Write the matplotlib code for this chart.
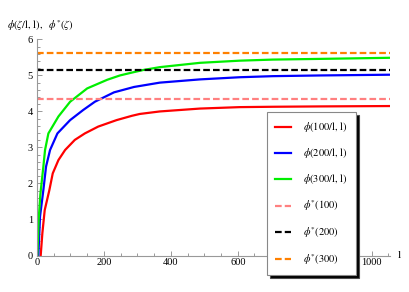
import matplotlib
matplotlib.use("Agg")
import matplotlib.pyplot as plt
from matplotlib.ticker import MultipleLocator

plt.rcParams['font.family'] = ['Liberation Serif', 'DejaVu Serif']
plt.rcParams['mathtext.fontset'] = 'stix'

# curves phi(n/l, l)
x_red = [11, 16, 23, 37, 47, 64, 84, 113, 143, 183, 238, 284, 307, 367, 487, 606, 705, 850, 1055]
y_red = [0, 0.62, 1.26, 1.82, 2.28, 2.65, 2.93, 3.21, 3.39, 3.58, 3.76, 3.88, 3.93, 4.0, 4.08, 4.12, 4.13, 4.14, 4.15]

x_blue = [4, 9, 19, 27, 39, 61, 99, 138, 173, 230, 290, 367, 487, 606, 705, 850, 1055]
y_blue = [0, 1.08, 1.82, 2.47, 2.93, 3.39, 3.76, 4.04, 4.27, 4.53, 4.68, 4.8, 4.89, 4.95, 4.98, 5.0, 5.02]

x_green = [1, 5, 10, 19, 24, 34, 64, 99, 150, 210, 248, 284, 317, 367, 487, 606, 705, 850, 1055]
y_green = [0, 1.0, 1.7, 2.47, 2.93, 3.39, 3.86, 4.27, 4.64, 4.88, 5.0, 5.08, 5.15, 5.23, 5.35, 5.41, 5.44, 5.46, 5.49]

# limits phi*(n)
phi_star = [4.34, 5.15, 5.62]
star_colors = ['#ff8080', 'black', '#ff8000']
star_labels = [r'$\phi^{*}(100)$', r'$\phi^{*}(200)$', r'$\phi^{*}(300)$']

fig = plt.figure(figsize=(4.09, 2.92), dpi=100)
ax = fig.add_axes([0.0905, 0.125, 0.8630, 0.74])

lw = 1.6
ax.plot(x_red, y_red, color='red', lw=lw, label=r'$\phi(100/\mathrm{l},\,\mathrm{l})$')
ax.plot(x_blue, y_blue, color='blue', lw=lw, label=r'$\phi(200/\mathrm{l},\,\mathrm{l})$')
ax.plot(x_green, y_green, color='#00ee00', lw=lw, label=r'$\phi(300/\mathrm{l},\,\mathrm{l})$')
for v, c, lab in zip(phi_star, star_colors, star_labels):
    ax.axhline(v, color=c, lw=lw, dashes=(3, 1.4), label=lab)

ax.set_xlim(0, 1055)
ax.set_ylim(0, 6)
for s in ['top', 'right']:
    ax.spines[s].set_visible(False)
for s in ['left', 'bottom']:
    ax.spines[s].set_color('#999999')
    ax.spines[s].set_linewidth(0.8)

ax.xaxis.set_major_locator(MultipleLocator(200))
ax.xaxis.set_minor_locator(MultipleLocator(50))
ax.yaxis.set_major_locator(MultipleLocator(1))
ax.yaxis.set_minor_locator(MultipleLocator(0.2))
ax.tick_params(which='both', direction='in', color='#999999', width=0.7, labelsize=7.5)
ax.tick_params(which='major', length=3.5)
ax.tick_params(which='minor', length=2)
ax.tick_params(axis='x', pad=2)
ax.tick_params(axis='y', pad=3)

fig.text(7 / 409, 1 - 26 / 292, r'$\phi(\zeta/\mathrm{l},\,\mathrm{l}),\ \ \phi^{*}(\zeta)$',
         fontsize=7.5, va='center', ha='left')
fig.text(398 / 409, 1 - 256 / 292, 'l', fontsize=8, va='center', ha='left')

leg = ax.legend(loc='upper left', bbox_to_anchor=(0.652, 0.664), borderaxespad=0,
                fontsize=7.5, frameon=True, fancybox=False, labelspacing=1.15,
                handlelength=1.45, handletextpad=1.2, borderpad=0.8,
                shadow={'facecolor': 'black', 'alpha': 1})
leg.get_frame().set_edgecolor('#888888')
leg.get_frame().set_linewidth(0.8)

# the 800 label sits under the legend box anyway
fig.canvas.draw()
for t in ax.get_xticklabels():
    if t.get_text() == '800':
        t.set_visible(False)

fig.savefig('out.png', dpi=100)
